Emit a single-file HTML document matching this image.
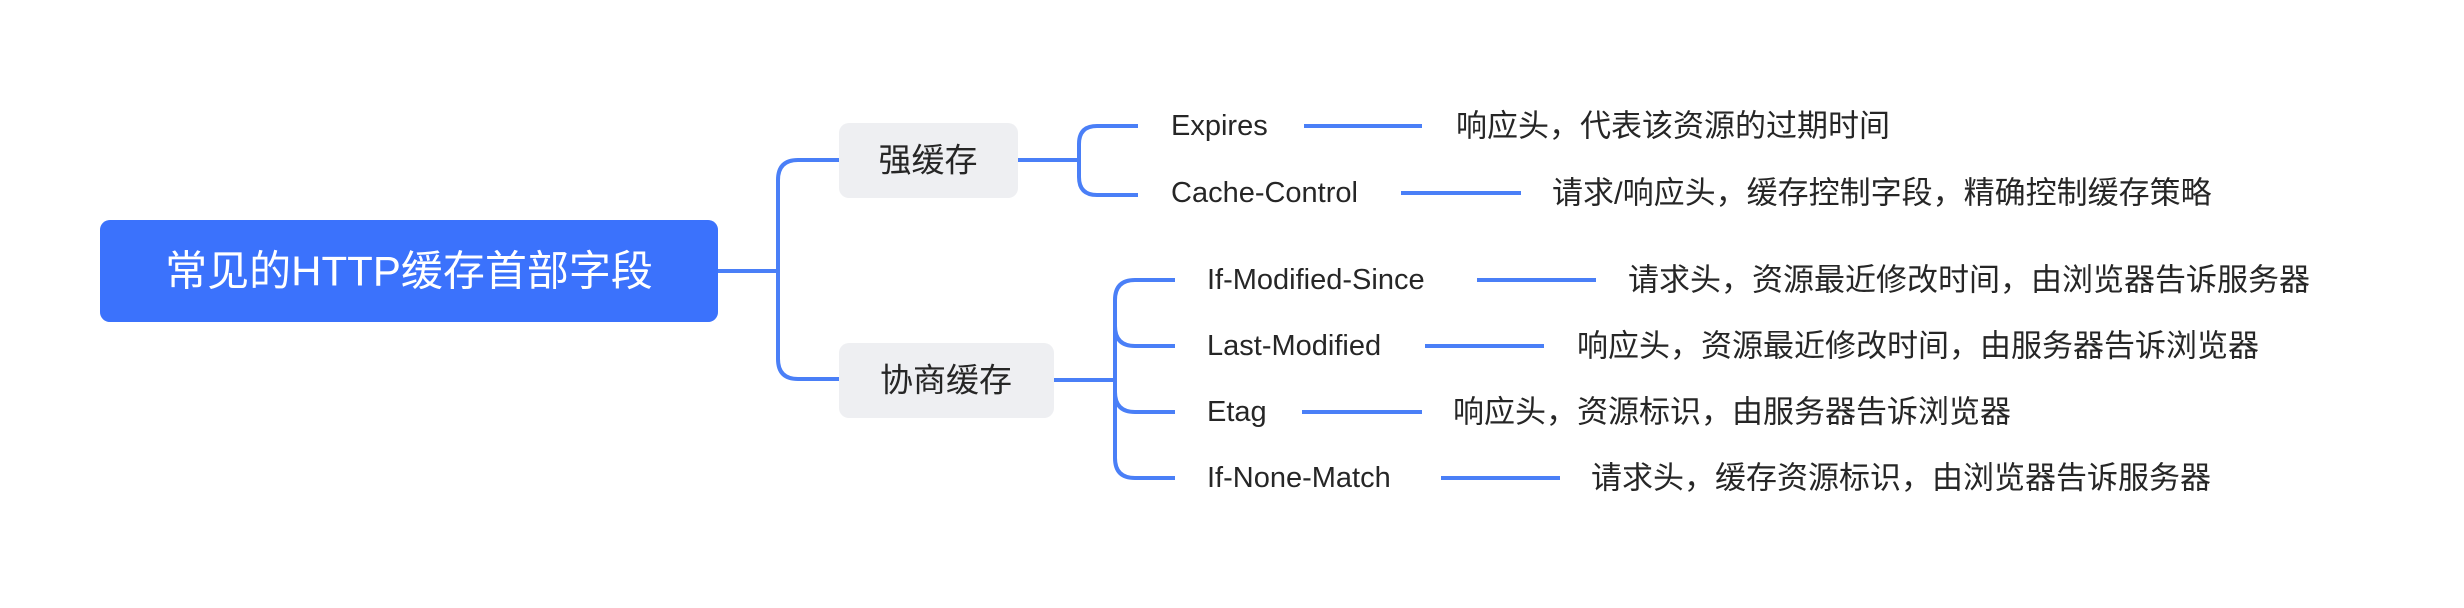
<!DOCTYPE html>
<html><head><meta charset="utf-8"><style>
html,body{margin:0;padding:0;background:#fff;}
svg{display:block;}
text{font-family:"Liberation Sans","Noto Sans CJK SC",sans-serif;fill:#262626;dominant-baseline:central;}
</style></head><body>
<svg width="2464" height="608" viewBox="0 0 2464 608" xmlns="http://www.w3.org/2000/svg">
<defs>
<filter id="sh" x="-20%" y="-60%" width="140%" height="220%">
<feGaussianBlur in="SourceAlpha" stdDeviation="14"/>
<feOffset dy="8"/>
<feFlood flood-color="#3a72fc" flood-opacity="0.45"/>
<feComposite operator="in" in2="SourceAlpha"/>
<feMerge><feMergeNode/><feMergeNode in="SourceGraphic"/></feMerge>
</filter>
</defs>
<g fill="none" stroke="#4a7ff7" stroke-width="4" stroke-linecap="butt">
<path d="M718 271 H778"/>
<path d="M839 160 H798 Q778 160 778 180 V359 Q778 379 798 379 H839"/>
<path d="M1018 160 H1079"/>
<path d="M1138 126 H1097 Q1079 126 1079 144 V177 Q1079 195 1097 195 H1138"/>
<path d="M1054 380 H1115"/>
<path d="M1175 280 H1135 Q1115 280 1115 300 V458 Q1115 478 1135 478 H1175"/>
<path d="M1115 326 Q1115 346 1135 346 H1175"/>
<path d="M1115 392 Q1115 412 1135 412 H1175"/>
<path d="M1304 126 H1422"/>
<path d="M1401 193 H1521"/>
<path d="M1477 280 H1596"/>
<path d="M1425 346 H1544"/>
<path d="M1302 412 H1422"/>
<path d="M1441 478 H1560"/>
</g>
<rect x="100" y="220" width="618" height="102" rx="10" fill="#3a72fc" filter="url(#sh)"/>
<text x="409" y="271" text-anchor="middle" font-size="42" style="fill:#fff">常见的HTTP缓存首部字段</text>
<rect x="839" y="123" width="179" height="75" rx="10" fill="#eeeff2"/>
<text x="928" y="160" text-anchor="middle" font-size="33">强缓存</text>
<rect x="839" y="343" width="215" height="75" rx="10" fill="#eeeff2"/>
<text x="946" y="380" text-anchor="middle" font-size="33">协商缓存</text>
<g font-size="29">
<text x="1171" y="126">Expires</text>
<text x="1171" y="193">Cache-Control</text>
<text x="1207" y="280">If-Modified-Since</text>
<text x="1207" y="346">Last-Modified</text>
<text x="1207" y="412">Etag</text>
<text x="1207" y="478">If-None-Match</text>
</g>
<g font-size="31">
<text x="1456" y="126">响应头，代表该资源的过期时间</text>
<text x="1552" y="193">请求/响应头，缓存控制字段，精确控制缓存策略</text>
<text x="1628" y="280">请求头，资源最近修改时间，由浏览器告诉服务器</text>
<text x="1577" y="346">响应头，资源最近修改时间，由服务器告诉浏览器</text>
<text x="1453" y="412">响应头，资源标识，由服务器告诉浏览器</text>
<text x="1591" y="478">请求头，缓存资源标识，由浏览器告诉服务器</text>
</g>
</svg>
</body></html>
